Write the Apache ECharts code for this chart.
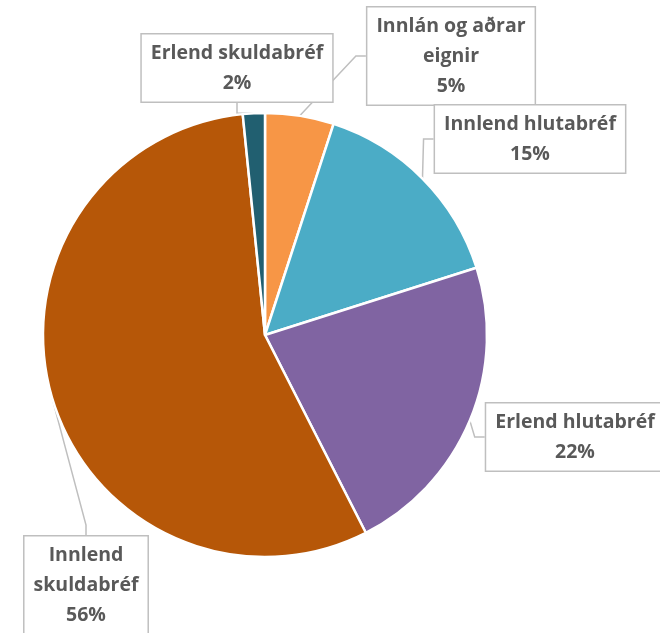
<!DOCTYPE html>
<html><head><meta charset="utf-8">
<script src="https://cdn.jsdelivr.net/npm/echarts@6/dist/echarts.min.js"></script>
<style>html,body{margin:0;padding:0;background:#fff}#c{width:660px;height:633px}</style>
</head><body><div id="c"></div>
<script>
const categories = ['Innlán og aðrar eignir','Innlend hlutabréf','Erlend hlutabréf','Innlend skuldabréf','Erlend skuldabréf'];
const labelNames = ['Innlán og aðrar\neignir','Innlend hlutabréf','Erlend hlutabréf','Innlend\nskuldabréf','Erlend skuldabréf'];
const values = [5.0, 15.1, 22.4, 55.9, 1.6];
const colors = ['#F79646','#4BACC6','#8064A2','#B65708','#215F70'];
const labelPos = [[451,56],[530,139],[575,437],[86,585],[237,68]];

const chart = echarts.init(document.getElementById('c'));
chart.setOption({
  animation:false,
  series:[{
    type:'pie',
    center:[265,335],
    radius:222,
    startAngle:90,
    clockwise:true,
    percentPrecision:0,
    avoidLabelOverlap:false,
    itemStyle:{borderColor:'#fff',borderWidth:2.5},
    data: categories.map((c,i)=>({name:c,value:values[i],itemStyle:{color:colors[i]}})),
    label:{
      show:true,
      formatter:p=>labelNames[p.dataIndex]+'\n'+p.percent+'%',
      fontFamily:'Open Sans',
      fontWeight:'bold',
      fontSize:19.5,
      lineHeight:30,
      color:'#595959',
      align:'center',
      backgroundColor:'#fff',
      borderColor:'#BFBFBF',
      borderWidth:1.5,
      padding:[4,9,3,9]
    },
    labelLine:{show:true,lineStyle:{color:'#BFBFBF',width:1.5},length:10,length2:10},
    labelLayout:function(p){
      const pos = labelPos[p.dataIndex];
      return {x:pos[0], y:pos[1], align:'center', verticalAlign:'middle'};
    }
  }]
});
</script></body></html>
